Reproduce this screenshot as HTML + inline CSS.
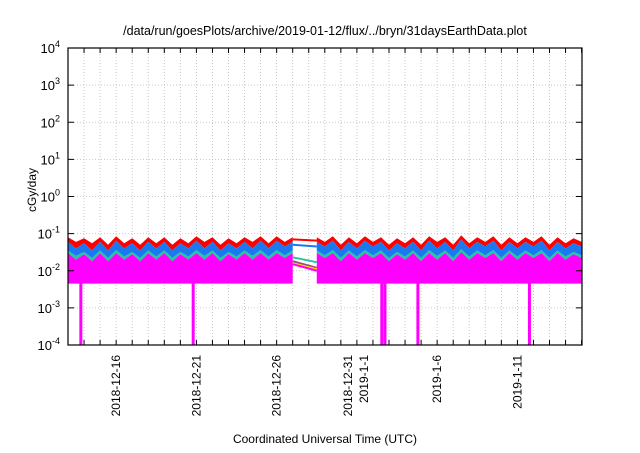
<!DOCTYPE html>
<html><head><meta charset="utf-8"><style>
body{margin:0;background:#fff;}
svg{font-family:"Liberation Sans",Arial,sans-serif;}
</style></head><body>
<svg id="chart" width="640" height="448" viewBox="0 0 640 448" xmlns="http://www.w3.org/2000/svg">
<rect width="640" height="448" fill="#fff"/>
<text x="325" y="35" font-size="12.5" text-anchor="middle">/data/run/goesPlots/archive/2019-01-12/flux/../bryn/31daysEarthData.plot</text>
<text transform="translate(36,190) rotate(-90)" font-size="12" text-anchor="middle">cGy/day</text>
<text x="325" y="443" font-size="12" text-anchor="middle">Coordinated Universal Time (UTC)</text>
<g id="grid"></g><g id="series"></g><g id="axes"></g>
</svg>
<script>
// half-day samples starting 2018-12-13 00:00; null = data gap
const redVals=[0.08,0.06,0.075,0.055,0.08,0.05,0.085,0.055,0.075,0.05,0.08,0.055,0.08,0.05,0.075,0.055,0.085,0.06,0.08,0.05,0.075,0.055,0.08,0.06,0.085,0.055,0.085,0.06,0.08,null,null,0.08,0.06,0.085,0.05,0.08,0.055,0.085,0.06,0.08,0.05,0.075,0.055,0.08,0.05,0.085,0.06,0.08,0.05,0.09,0.055,0.08,0.06,0.085,0.05,0.08,0.055,0.08,0.06,0.085,0.05,0.08,0.055,0.075,0.06];
const blueVals=[0.06,0.04,0.055,0.035,0.06,0.035,0.065,0.04,0.055,0.035,0.06,0.04,0.06,0.035,0.055,0.04,0.065,0.04,0.06,0.035,0.055,0.04,0.06,0.04,0.065,0.04,0.065,0.045,0.06,null,null,0.06,0.045,0.065,0.035,0.06,0.04,0.065,0.045,0.06,0.035,0.055,0.04,0.06,0.035,0.065,0.04,0.06,0.035,0.07,0.04,0.06,0.045,0.065,0.035,0.06,0.04,0.06,0.045,0.065,0.035,0.06,0.04,0.055,0.045];
const tealVals=[0.035,0.025,0.032,0.022,0.035,0.022,0.036,0.024,0.032,0.022,0.035,0.024,0.035,0.022,0.032,0.024,0.036,0.025,0.035,0.022,0.032,0.024,0.035,0.025,0.036,0.024,0.036,0.026,0.035,null,null,0.035,0.026,0.036,0.022,0.035,0.024,0.036,0.026,0.035,0.022,0.032,0.024,0.035,0.022,0.036,0.025,0.035,0.022,0.038,0.024,0.035,0.026,0.036,0.022,0.035,0.024,0.035,0.026,0.036,0.022,0.035,0.024,0.032,0.026];
const magTopVals=[0.03,0.02,0.028,0.018,0.03,0.018,0.03,0.02,0.028,0.018,0.03,0.02,0.03,0.018,0.028,0.02,0.03,0.02,0.03,0.018,0.028,0.02,0.03,0.02,0.03,0.02,0.03,0.022,0.03,null,null,0.03,0.022,0.03,0.018,0.03,0.02,0.03,0.022,0.03,0.018,0.028,0.02,0.03,0.018,0.03,0.02,0.03,0.018,0.032,0.02,0.03,0.022,0.03,0.018,0.03,0.02,0.03,0.022,0.03,0.018,0.03,0.02,0.028,0.022];
const magBottom=0.0045;
const gapLinesStart=[0.07,0.05,0.023,0.018,0.016,0.015];
const gapLinesEnd=[0.065,0.045,0.017,0.012,0.011,0.01];
const gapColors=['#ff0000','#1a78f0','#20c8a0','#a04878','#ffd000','#ff00ff'];
const dropoutDays=[0.8,7.8,19.55,19.75,21.8,28.75];
const yTicks=[-4,-3,-2,-1,0,1,2,3,4];
const xLabels=[["2018-12-16"],["2018-12-21"],["2018-12-26"],["2018-12-31","2019-1-1"],["2019-1-6"],["2019-1-11"]];
const xLabelDays=[3,8,13,18,23,28];

const L=68,R=582,T=48,B=345,dayW=16.05,nDays=(R-L)/dayW;
const X=d=>L+d*dayW;
const Y=v=>B-(Math.log10(v)+4)*(B-T)/8;
const NS='http://www.w3.org/2000/svg';
function mk(tag,parent,attrs){const e=document.createElementNS(NS,tag);for(const k in attrs)e.setAttribute(k,attrs[k]);parent.appendChild(e);return e;}
const grid=document.getElementById('grid'),ser=document.getElementById('series'),ax=document.getElementById('axes');

for(let d=1;d<nDays;d++){const g=mk('line',grid,{x1:X(d),x2:X(d),y1:T,y2:B,stroke:'#bbb','stroke-dasharray':'1,2','stroke-width':0.8});

}
yTicks.forEach(p=>{const y=Y(Math.pow(10,p));
if(p>-4&&p<4){const g=mk('line',grid,{x1:L,x2:R,y1:y,y2:y,stroke:'#bbb','stroke-dasharray':'1,2','stroke-width':0.8});

}
const t=mk('text',ax,{x:L-8,y:y+5,'font-size':13,'text-anchor':'end'});


t.textContent='10';const s=mk('tspan',t,{dy:-6,'font-size':9});s.textContent=String(p);
const tk=mk('line',ax,{x1:L,x2:L+6,y1:y,y2:y,stroke:'#000'});


const tk2=mk('line',ax,{x1:R,x2:R-6,y1:y,y2:y,stroke:'#000'});

});

function segments(vals){const segs=[];let cur=[];vals.forEach((v,i)=>{if(v==null){if(cur.length)segs.push(cur);cur=[];}else cur.push([i*0.5,v]);});if(cur.length)segs.push(cur);return segs;}
function band(vals,lowVals,color,name){segments(vals).forEach(seg=>{
let pts=seg.map(([d,v])=>X(Math.min(d,nDays))+','+Y(v));
const low=seg.slice().reverse().map(([d,v])=>{const i=Math.round(d*2);const lv=lowVals?lowVals[i]:magBottom;return X(Math.min(d,nDays))+','+Y(lv);});
const p=mk('polygon',ser,{points:pts.concat(low).join(' '),fill:color});

});}
band(redVals,blueVals,'#ff0000','red-series');
band(blueVals,tealVals,'#1a78f0','blue-series');
band(tealVals,magTopVals,'#20c8a0','teal-series');
band(magTopVals,null,'#ff00ff','magenta-series');
gapLinesStart.forEach((v,i)=>{const l=mk('line',ser,{x1:X(14),y1:Y(v),x2:X(15.5),y2:Y(gapLinesEnd[i]),stroke:gapColors[i],'stroke-width':2});

});
dropoutDays.forEach(d=>{const r=mk('rect',ser,{x:X(d)-1.5,y:Y(0.02),width:3,height:B-Y(0.02),fill:'#ff00ff'});

});

mk('rect',ax,{x:L,y:T,width:R-L,height:B-T,fill:'none',stroke:'#000','stroke-width':1.2});
for(let d=1;d<nDays;d++){const a=mk('line',ax,{x1:X(d),x2:X(d),y1:B,y2:B-5,stroke:'#000'});


const b=mk('line',ax,{x1:X(d),x2:X(d),y1:T,y2:T+5,stroke:'#000'});

}
xLabels.forEach((lab,i)=>{const x=X(xLabelDays[i]);lab.forEach((s,j)=>{
const xx=lab.length>1?x+(j===0?-5:11):x+4;
const t=mk('text',ax,{transform:`translate(${xx},355) rotate(-90)`,'font-size':12,'text-anchor':'end'});


t.textContent=s;});});
</script>
</body></html>
